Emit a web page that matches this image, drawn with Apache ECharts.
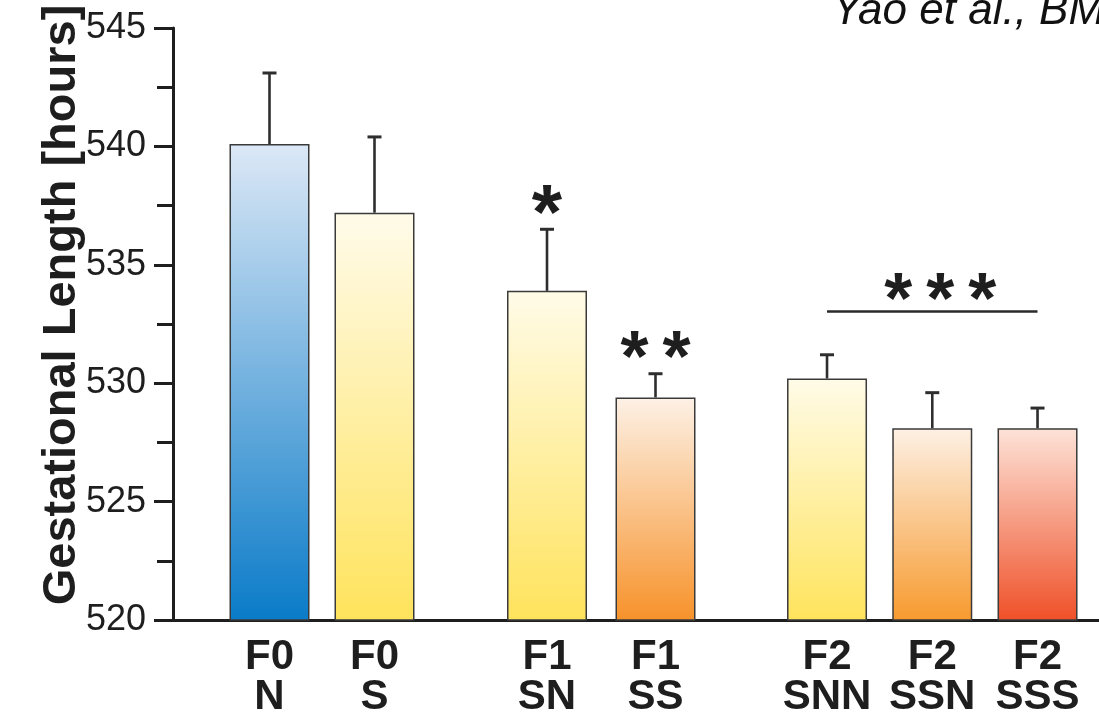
<!DOCTYPE html>
<html>
<head>
<meta charset="utf-8">
<script src="https://cdn.jsdelivr.net/npm/echarts@6/dist/echarts.min.js"></script>
<style>
  html, body { margin: 0; padding: 0; background: #ffffff; }
  #chart { width: 1099px; height: 719px; }
</style>
</head>
<body>
<div id="chart"></div>
<script>
// ---------------- data ----------------
const generation = ['F0', 'F0', 'F1', 'F1', 'F2', 'F2', 'F2'];
const lineage    = ['N', 'S', 'SN', 'SS', 'SNN', 'SSN', 'SSS'];
const meanHours  = [540.1, 537.2, 533.9, 529.4, 530.2, 528.1, 528.1];
const semHours   = [3.0, 3.2, 2.6, 1.0, 1.0, 1.5, 0.85];
const yTickLabels = [520, 525, 530, 535, 540, 545];
const yTitle = 'Gestational Length [hours]';
const sourceNote = 'Yao et al., BMC';
// significance annotations (value-axis heights)
const starMarks = [
  { at: 'SN',  y: 536.98, text: '*' },
  { at: 'SS',  y: 530.94, text: '* *' },
  { at: 'SSN', y: 533.39, text: '* * *' }
];
const bracket = { from: 'SNN', to: 'SSS', y: 533.05 };

// ---------------- styles / layout ----------------
const topColor    = ['#dce8f6', '#fffbea', '#fffbe8', '#fdf1e6', '#fffbe8', '#fdf0e4', '#fde3d8'];
const bottomColor = ['#0a7bc8', '#ffe35c', '#ffe35c', '#f7922a', '#ffe45c', '#f79a2e', '#ef5028'];
const starOffset  = { 'SN': 0, 'SS': 0, 'SSN': 8 };
const panels = [
  { gen: 'F0', left: 217,    width: 210 },
  { gen: 'F1', left: 492.75, width: 217 },
  { gen: 'F2', left: 774.4,  width: 315.75 }
];
const GRID_TOP = 28, GRID_BOTTOM = 99;
const FONT = '"Liberation Sans", Arial, Helvetica, sans-serif';
const INK = '#1e1e1e';

const yMin = yTickLabels[0], yMax = yTickLabels[yTickLabels.length - 1];
const yStep = yTickLabels[1] - yTickLabels[0];

const chart = echarts.init(document.getElementById('chart'), null, { renderer: 'canvas' });

const grids = [{ left: 173, right: 0, top: GRID_TOP, bottom: GRID_BOTTOM }];
const xAxes = [{
  type: 'value', gridIndex: 0, min: 0, max: 1,
  axisLine: { show: true, lineStyle: { color: INK, width: 3 } },
  axisTick: { show: false }, axisLabel: { show: false }, splitLine: { show: false }
}];
const yAxes = [{
  type: 'value', gridIndex: 0, min: yMin, max: yMax, interval: yStep,
  axisLine: { show: true, lineStyle: { color: INK, width: 3 } },
  axisTick: { show: true, inside: false, length: 19, lineStyle: { color: INK, width: 3 } },
  minorTick: { show: true, splitNumber: 2, length: 16, lineStyle: { color: INK, width: 3 } },
  axisLabel: { show: true, margin: 27, fontSize: 36, color: INK, fontFamily: FONT },
  splitLine: { show: false }, minorSplitLine: { show: false }
}];
const series = [];

panels.forEach((p, k) => {
  const gi = k + 1;
  const idx = [];
  generation.forEach((g, i) => { if (g === p.gen) idx.push(i); });
  const cats = idx.map(i => lineage[i]);
  grids.push({ left: p.left, width: p.width, top: GRID_TOP, bottom: GRID_BOTTOM });
  xAxes.push({
    type: 'category', gridIndex: gi, data: cats,
    axisLine: { show: false }, axisTick: { show: false }, splitLine: { show: false },
    axisLabel: {
      show: true, margin: 17, interval: 0,
      formatter: (v) => p.gen + '\n' + v,
      fontSize: 42, fontWeight: 'bold', lineHeight: 40, color: INK, fontFamily: FONT
    }
  });
  yAxes.push({
    type: 'value', gridIndex: gi, min: yMin, max: yMax, interval: yStep, show: false
  });

  const marks = starMarks.filter(m => cats.indexOf(m.at) >= 0);
  const barSeries = {
    type: 'bar', xAxisIndex: gi, yAxisIndex: gi, barWidth: 80,
    data: idx.map(i => ({
      value: meanHours[i],
      itemStyle: {
        color: new echarts.graphic.LinearGradient(0, 0, 0, 1, [
          { offset: 0, color: topColor[i] },
          { offset: 1, color: bottomColor[i] }
        ]),
        borderColor: '#3a3a3a', borderWidth: 1.5
      }
    })),
    emphasis: { disabled: true },
    z: 2
  };
  if (marks.length) {
    barSeries.markPoint = {
      symbol: 'circle', symbolSize: 1,
      itemStyle: { color: 'rgba(0,0,0,0)' },
      label: {
        show: true, position: 'inside', color: INK,
        formatter: (prm) => prm.name.split(' ').map(() => '{s|*}').join('{g| }'),
        rich: {
          s: { fontSize: 72, fontWeight: 'bold', fontFamily: FONT, color: INK },
          g: { width: 14, fontSize: 72, fontFamily: FONT }
        }
      },
      data: marks.map(m => ({
        name: m.text, coord: [m.at, m.y],
        label: { offset: [starOffset[m.at] || 0, 0], rich: m.text === '*' ? { s: { fontSize: 78, fontWeight: 'bold', fontFamily: FONT, color: INK } } : undefined }
      }))
    };
  }
  if (cats.indexOf(bracket.from) >= 0) {
    barSeries.markLine = {
      symbol: ['none', 'none'], silent: true,
      lineStyle: { color: '#2a2a2a', width: 2.5, type: 'solid' },
      label: { show: false },
      data: [[{ coord: [bracket.from, bracket.y] }, { coord: [bracket.to, bracket.y] }]]
    };
  }
  series.push(barSeries);

  series.push({
    type: 'custom', xAxisIndex: gi, yAxisIndex: gi, z: 4,
    data: idx.map((i, j) => [j, meanHours[i], meanHours[i] + semHours[i]]),
    encode: { x: 0, y: [1, 2] },
    renderItem: (params, api) => {
      const base = api.coord([api.value(0), api.value(1)]);
      const top = api.coord([api.value(0), api.value(2)]);
      return {
        type: 'group',
        children: [
          { type: 'line', shape: { x1: base[0], y1: base[1], x2: top[0], y2: top[1] },
            style: { stroke: '#2e2e2e', lineWidth: 2.6 } },
          { type: 'line', shape: { x1: top[0] - 7, y1: top[1], x2: top[0] + 7, y2: top[1] },
            style: { stroke: '#2e2e2e', lineWidth: 3 } }
        ]
      };
    }
  });
});

chart.setOption({
  animation: false,
  backgroundColor: '#ffffff',
  grid: grids,
  xAxis: xAxes,
  yAxis: yAxes,
  series: series,
  graphic: [
    {
      type: 'text', x: 62, y: 305, rotation: Math.PI / 2,
      style: { text: yTitle, fill: INK, font: 'bold 47px ' + FONT, align: 'center', verticalAlign: 'middle' }
    },
    {
      type: 'text', x: 832, y: 12,
      style: { text: sourceNote, fill: '#111', font: 'italic 44px ' + FONT, align: 'left', verticalAlign: 'middle' }
    }
  ]
});
</script>
</body>
</html>
